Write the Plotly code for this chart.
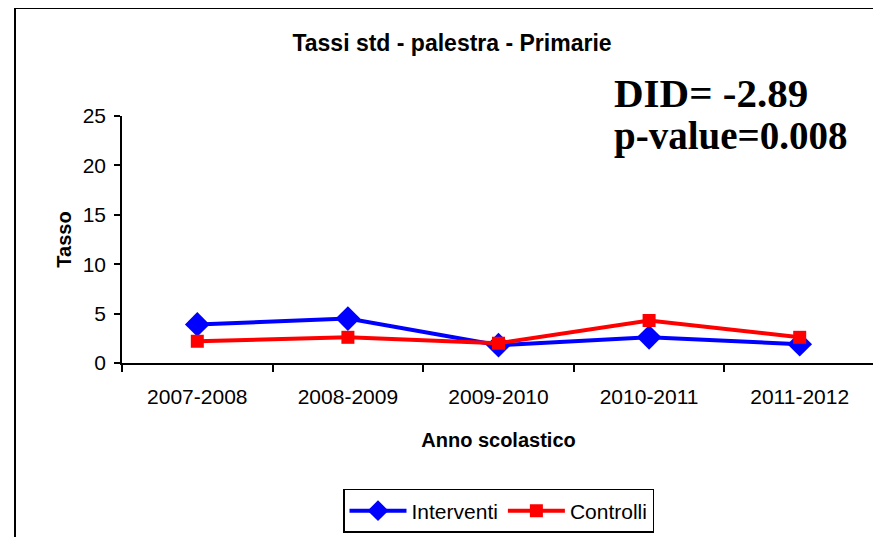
import plotly.graph_objects as go

years = ["2007-2008", "2008-2009", "2009-2010", "2010-2011", "2011-2012"]
interventi = [3.9, 4.5, 1.8, 2.6, 1.9]
controlli = [2.2, 2.6, 2.0, 4.3, 2.6]
y_ticks = [0, 5, 10, 15, 20, 25]

W, H = 881, 537
OFF = 8  # page body margin offset
# target screen pixels of plot area
SX0, SX1, SY0, SY1 = 122, 875, 116, 365
L, T = SX0 - OFF, SY0 - OFF
R = W - (SX1 - OFF)
B = H - (SY1 - OFF)
PW, PH = W - L - R, H - T - B


def px(x):
    return (x - OFF - L) / PW


def py(y):
    return (T + PH - (y - OFF)) / PH


SANS = "Liberation Sans, Arial, sans-serif"
SERIF = "Liberation Serif, Times New Roman, serif"

fig = go.Figure()
fig.add_trace(go.Scatter(
    x=years, y=interventi, name="Interventi", mode="lines+markers",
    line=dict(color="#0000FF", width=4),
    marker=dict(symbol="diamond", size=19, color="#0000FF"),
))
fig.add_trace(go.Scatter(
    x=years, y=controlli, name="Controlli", mode="lines+markers",
    line=dict(color="#FF0000", width=4),
    marker=dict(symbol="square", size=13, color="#FF0000"),
))

fig.update_layout(
    width=W, height=H,
    margin=dict(l=L, r=R, t=T, b=B),
    paper_bgcolor="white", plot_bgcolor="white",
    font=dict(family=SANS, size=21, color="black"),
    title=dict(text="<b>Tassi std - palestra - Primarie</b>", xref="paper", x=px(452), xanchor="center",
               yref="container", y=1 - (43 - OFF) / H, yanchor="middle",
               font=dict(family=SANS, size=23, color="black")),
    xaxis=dict(
        type="category", range=[-0.5, 4.5], tickson="boundaries",
        ticks="outside", ticklen=7, tickwidth=1.5, tickcolor="black",
        showline=True, linecolor="black", linewidth=1.5, showgrid=False,
        tickfont=dict(family=SANS, size=21), ticklabelstandoff=14,
        title=dict(text="<b>Anno scolastico</b>", font=dict(family=SANS, size=20), standoff=26),
    ),
    yaxis=dict(
        range=[0, 25], tickvals=y_ticks, ticks="outside", ticklen=6, tickwidth=1.5,
        tickcolor="black", showline=True, linecolor="black", linewidth=1.5,
        showgrid=False, zeroline=False, tickfont=dict(family=SANS, size=21),
        ticklabelstandoff=4,
        title=dict(text="<b>Tasso</b>", font=dict(family=SANS, size=20), standoff=6),
    ),
    legend=dict(
        orientation="h", x=px(498.5), xanchor="center", y=py(492), yanchor="top",
        bordercolor="black", borderwidth=1.5, bgcolor="white",
        font=dict(family=SANS, size=21), itemwidth=57,
    ),
    showlegend=True,
)

fig.add_shape(type="rect", xref="paper", yref="paper",
              x0=px(15), y0=py(7), x1=px(905), y1=py(560),
              line=dict(color="black", width=2), fillcolor="rgba(0,0,0,0)", layer="below")

fig.add_annotation(text="<b>DID= -2.89</b>", xref="paper", yref="paper",
                   x=px(612), y=py(93), xanchor="left", yanchor="middle", showarrow=False,
                   font=dict(family=SERIF, size=41, color="black"))
fig.add_annotation(text="<b>p-value=0.008</b>", xref="paper", yref="paper",
                   x=px(612), y=py(136), xanchor="left", yanchor="middle", showarrow=False,
                   font=dict(family=SERIF, size=39, color="black"))

fig.write_html("out.html")
